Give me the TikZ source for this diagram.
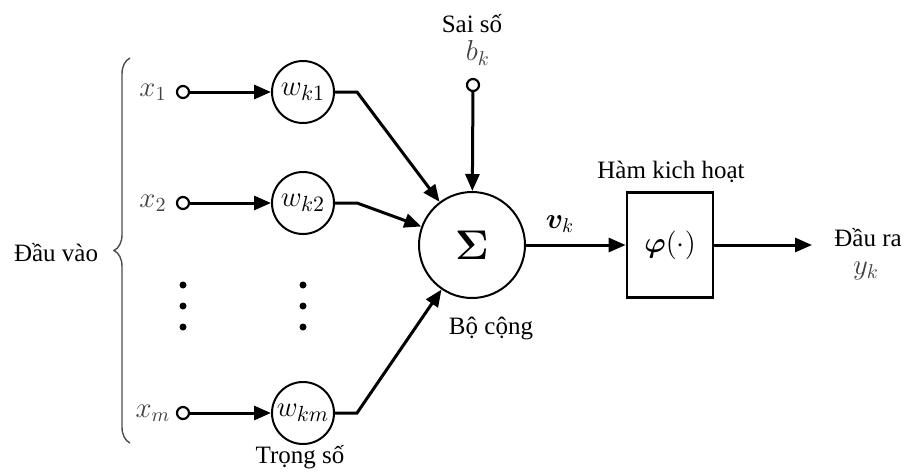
\documentclass[tikz,border=0pt]{standalone}
\usepackage{amsmath}
\usepackage{bm}
\usepackage{fontspec}
\setmainfont{Liberation Serif}
\usetikzlibrary{arrows.meta,decorations.pathreplacing}
\begin{document}
\begin{tikzpicture}[x=0.5pt,y=-0.5pt,
  font=\fontsize{12.5}{15}\selectfont,
  conn/.style={line width=1.5pt,-{Triangle[length=8.5pt,width=7pt]}},
  wcirc/.style={circle,draw,line width=1pt,minimum size=31pt,inner sep=0pt,font=\fontsize{15.5}{17}\selectfont},
  incirc/.style={circle,draw,line width=1.1pt,minimum size=6pt,inner sep=0pt,fill=white},
  xlab/.style={text=black!75,inner sep=0pt,font=\fontsize{14}{16}\selectfont},
  dotnode/.style={circle,fill,minimum size=3.5pt,inner sep=0pt},
  lab/.style={inner sep=0pt}]
\useasboundingbox (0,0) rectangle (908,471);
% inputs
\node[incirc] (i1) at (183,92) {};
\node[incirc] (i2) at (183,203) {};
\node[incirc] (im) at (183,413) {};
\node[xlab] (x1) at (153,92) {$x_1$};
\node[xlab] (x2) at (153,203) {$x_2$};
\node[xlab] (xm) at (153,413) {$x_m$};
% weights
\node[wcirc] (w1) at (303,92) {$w_{k1}$};
\node[wcirc] (w2) at (303,203) {$w_{k2}$};
\node[wcirc] (wm) at (303,413) {$w_{km}$};
% dots
\node[dotnode] (da1) at (183,285) {};
\node[dotnode] (da2) at (183,306) {};
\node[dotnode] (da3) at (183,327) {};
\node[dotnode] (db1) at (303,285) {};
\node[dotnode] (db2) at (303,306) {};
\node[dotnode] (db3) at (303,327) {};
% summer
\node[circle,draw,line width=1pt,minimum size=53pt,inner sep=0pt,font=\fontsize{21}{23}\selectfont] (sig) at (472,245) {$\boldsymbol{\Sigma}$};
\node[incirc] (b) at (473,85) {};
\node[xlab] (bk) at (478,53) {$b_k$};
\node[lab] (sai) at (472,24) {Sai số};
\node[lab] (bc) at (491,328) {Bộ cộng};
\node[lab,font=\fontsize{14}{16}\selectfont] (vk) at (560,224) {$\bm{v}_k$};
% activation
\node[draw,line width=1.4pt,minimum width=43pt,minimum height=52.5pt,inner sep=0pt,font=\fontsize{14}{16}\selectfont] (phi) at (670,245) {$\bm{\varphi}(\cdot)$};
\node[lab] (hkh) at (671,172) {Hàm kich hoạt};
\coordinate (out) at (812,245);
\node[lab] (dr) at (868,238) {Đầu ra};
\node[xlab] (yk) at (866,271) {$y_k$};
% labels
\node[lab] (ts) at (300,457) {Trọng số};
\node[lab] (dv) at (56,253) {Đầu vào};
% brace
\coordinate (bb) at (130,443);
\coordinate (bt) at (130,58);
\draw[black!70,line width=0.7pt,decorate,decoration={brace,amplitude=8pt}] (bb) -- (bt);
% connectors
\coordinate (c1) at (357,92);
\coordinate (c2) at (357,203);
\coordinate (cm) at (357,413);
\draw[conn] (i1) -- (w1);
\draw[conn] (i2) -- (w2);
\draw[conn] (im) -- (wm);
\draw[conn] (w1.east) -- (c1) -- (sig);
\draw[conn] (w2.east) -- (c2) -- (sig);
\draw[conn] (wm.east) -- (cm) -- (sig);
\draw[conn] (b) -- (sig);
\draw[conn] (sig) -- (phi);
\draw[conn] (phi) -- (out);
\end{tikzpicture}
\end{document}
